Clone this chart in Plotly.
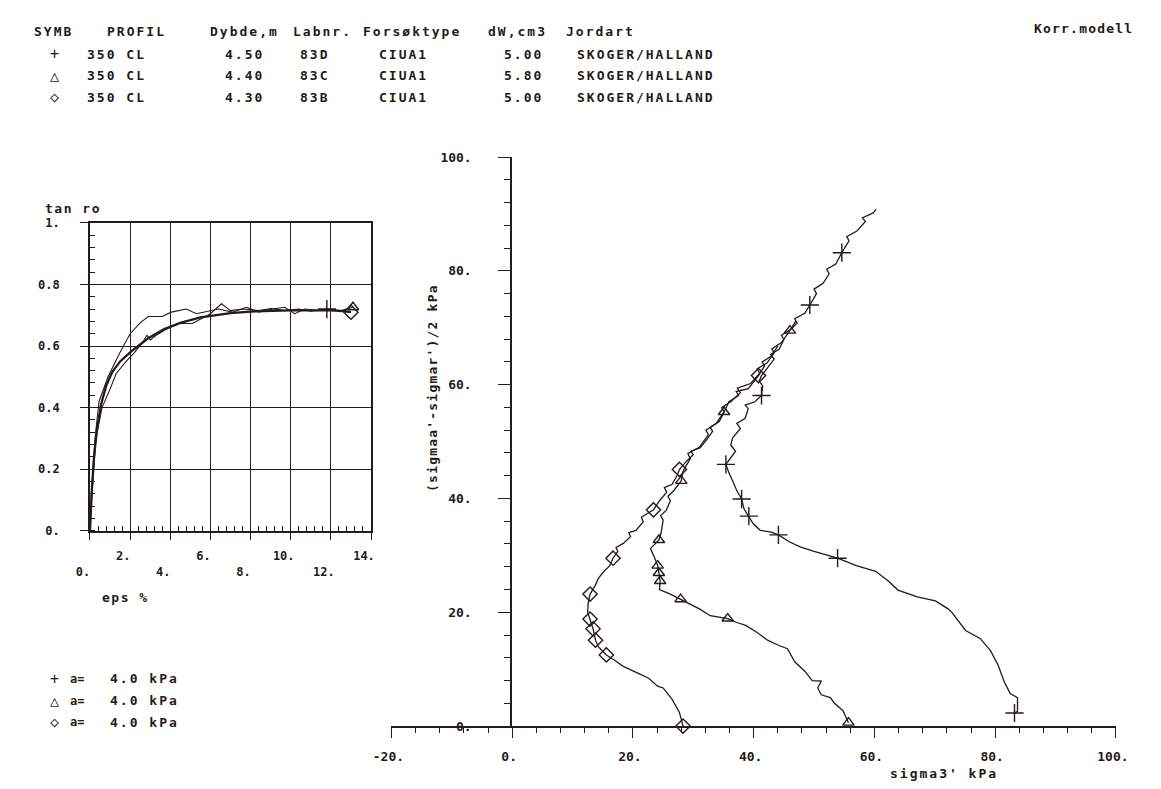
import plotly.graph_objects as go

W, H = 1161, 789
INK = "#241a17"
FONT = "DejaVu Sans Mono"

# ---------------- data ----------------
# header table
hdr_cols = ["SYMB", "PROFIL", "Dybde,m", "Labnr.", "Forsøktype", "dW,cm3", "Jordart"]
symbols = ["+", "△", "◇"]
profil = ["350 CL", "350 CL", "350 CL"]
dybde = ["4.50", "4.40", "4.30"]
labnr = ["83D", "83C", "83B"]
forsok = ["CIUA1", "CIUA1", "CIUA1"]
dw = ["5.00", "5.80", "5.00"]
jordart = ["SKOGER/HALLAND", "SKOGER/HALLAND", "SKOGER/HALLAND"]
a_vals = ["4.0", "4.0", "4.0"]

# left chart: tan ro vs eps %
eps_plus = [0, 0.1, 0.25, 0.45, 0.9, 1.5, 2.0, 2.5, 2.9, 3.6, 4.05, 4.8, 5.3, 6.0,
            6.4, 7.1, 7.8, 8.4, 9.1, 9.7, 10.2, 10.7, 11.3, 11.8]
tan_plus = [0, 0.15, 0.3, 0.42, 0.5, 0.58, 0.64, 0.675, 0.696, 0.696, 0.71, 0.72, 0.705,
            0.715, 0.72, 0.71, 0.726, 0.71, 0.72, 0.726, 0.705, 0.72, 0.715, 0.72]
eps_tri = [0, 0.1, 0.3, 0.6, 1.0, 1.3, 1.8, 2.2, 2.6, 2.84, 3.0, 3.3, 3.73, 4.37, 5.1,
           5.67, 6.0, 6.55, 7.0, 7.6, 8.4, 9.0, 9.7, 10.4, 11.0, 11.8, 12.5, 13.1]
tan_tri = [0, 0.12, 0.3, 0.4, 0.46, 0.51, 0.55, 0.578, 0.61, 0.635, 0.62, 0.635, 0.652,
           0.673, 0.673, 0.694, 0.705, 0.737, 0.715, 0.72, 0.715, 0.722, 0.715, 0.72,
           0.713, 0.72, 0.715, 0.726]
eps_dia = [0, 0.08, 0.2, 0.35, 0.55, 0.8, 1.1, 1.5, 2.1, 2.9, 3.7, 4.5, 5.5, 6.2, 7.0,
           8.0, 9.0, 10.0, 11.0, 12.0, 12.6, 13.0]
tan_dia = [0, 0.12, 0.24, 0.33, 0.41, 0.47, 0.515, 0.55, 0.585, 0.625, 0.655, 0.675,
           0.693, 0.70, 0.707, 0.712, 0.715, 0.716, 0.716, 0.716, 0.713, 0.71]

# right chart: stress path, sigma3' vs (sigmaa'-sigmar')/2
s3_plus = [83.2, 83.7, 83.7, 82.5, 81.5, 80.5, 79.2, 77.5, 75.1, 72.9, 72.2, 70.1, 67.1,
           63.9, 62.3, 60.2, 57.0, 53.9, 50.0, 47.7, 45.9, 44.1, 42.9, 41.1, 39.9, 39.2,
           38.4, 38.0, 37.2, 36.5, 35.9, 35.4, 37.0, 36.2, 36.5, 37.8, 37.2, 38.6, 39.1,
           38.6, 40.2, 41.3, 41.5, 40.9, 41.3, 42.1, 43.4, 42.8, 44.2, 45.0, 44.6, 46.1,
           47.2, 46.8, 48.5, 49.3, 50.4, 50.0, 51.5, 52.5, 52.1, 53.6, 54.6, 55.8, 55.4,
           57.1, 58.5, 58.0, 59.8, 60.3]
q_plus = [2.3, 2.6, 5.0, 5.7, 7.8, 10.7, 13.3, 15.4, 16.8, 19.9, 20.6, 22.0, 22.7, 23.9,
          25.5, 27.2, 28.2, 29.5, 30.7, 31.5, 32.4, 33.6, 34.1, 34.4, 35.6, 36.9, 38.2,
          39.9, 41.4, 43.1, 44.5, 46.0, 48.3, 49.4, 50.6, 52.3, 53.2, 54.1, 55.8, 56.4,
          57.0, 58.1, 59.8, 60.6, 61.6, 62.7, 64.5, 65.3, 66.2, 67.9, 68.7, 69.7, 70.8,
          71.6, 72.6, 74.0, 76.0, 76.8, 77.8, 79.5, 80.3, 81.2, 83.2, 85.3, 86.0, 87.0,
          88.7, 89.3, 90.2, 90.8]
s3_tri = [55.7, 54.8, 53.3, 52.7, 51.2, 50.6, 51.2, 49.7, 48.5, 46.8, 45.6, 44.1, 42.3,
          40.5, 38.7, 37.2, 35.7, 32.8, 31.0, 29.5, 27.9, 26.2, 24.4, 24.5, 24.3, 24.1,
          23.5, 22.9, 24.3, 24.7, 25.0, 24.6, 25.5, 26.2, 25.8, 26.8, 28.0, 28.3, 29.5,
          29.1, 31.0, 32.5, 32.1, 33.8, 35.1, 34.7, 36.2, 37.8, 37.3, 39.5, 41.0, 40.6,
          42.2, 43.4, 43.0, 44.6, 46.0, 47.0]
q_tri = [0.6, 2.7, 4.1, 5.0, 5.5, 6.7, 7.9, 8.0, 9.6, 11.3, 13.6, 14.2, 15.1, 16.5, 17.7,
         18.2, 18.9, 19.4, 20.6, 21.4, 22.3, 23.2, 24.0, 25.5, 26.9, 28.2, 29.8, 31.2,
         32.7, 34.1, 36.2, 37.0, 37.9, 39.6, 40.4, 41.4, 43.1, 44.8, 47.0, 47.9, 49.0,
         51.2, 52.0, 53.2, 55.2, 56.0, 57.0, 58.6, 59.4, 60.2, 62.0, 62.8, 63.8, 65.6,
         66.3, 67.4, 69.5, 71.2]
s3_dia = [28.3, 27.7, 26.5, 25.0, 24.1, 22.6, 20.8, 18.4, 16.9, 15.6, 14.3, 13.8, 13.4,
          12.9, 12.5, 12.6, 12.9, 13.7, 14.3, 15.2, 16.1, 16.7, 17.5, 17.2, 18.4, 19.6,
          19.3, 20.5, 21.7, 21.4, 23.4, 24.4, 25.6, 25.2, 26.5, 27.4, 27.7, 28.9, 30.0,
          29.6, 31.1, 32.2, 33.2, 32.8, 34.3, 35.1, 35.9, 37.5, 37.1, 39.1, 40.8, 41.8,
          41.4, 42.9, 44.0]
q_dia = [0.0, 2.4, 4.7, 6.7, 7.0, 8.4, 9.3, 10.5, 11.6, 12.5, 13.9, 15.1, 17.1, 18.8,
         20.0, 21.7, 23.2, 24.6, 26.0, 27.2, 28.1, 29.5, 30.7, 31.4, 32.1, 33.3, 34.0,
         34.4, 35.9, 36.7, 38.0, 39.6, 41.1, 41.9, 42.5, 44.2, 45.1, 46.6, 47.7, 48.3,
         48.9, 50.3, 51.8, 52.5, 53.5, 55.2, 57.0, 58.1, 58.8, 59.3, 61.6, 63.3, 64.0,
         65.0, 66.8]

# marker positions along the paths
mk_plus_x = [83.2, 53.9, 44.1, 39.2, 38.0, 35.4, 41.3, 49.3, 54.6]
mk_plus_y = [2.3, 29.5, 33.6, 36.9, 39.9, 46.0, 58.1, 74.0, 83.2]
mk_tri_x = [55.7, 35.7, 27.9, 24.5, 24.3, 24.1, 24.3, 28.0, 35.1, 46.0]
mk_tri_y = [0.6, 18.9, 22.3, 25.5, 26.9, 28.2, 32.7, 43.1, 55.2, 69.5]
mk_dia_x = [28.3, 15.6, 13.8, 13.4, 12.9, 12.9, 16.7, 23.4, 27.7, 40.8]
mk_dia_y = [0.0, 12.5, 15.1, 17.1, 18.8, 23.2, 29.5, 38.0, 45.1, 61.6]

# tick labels
left_x_vals = [0, 2, 4, 6, 8, 10, 12, 14]
left_x_text = ["<br>0.", "2.", "<br>4.", "6.", "<br>8.", "10.", "<br>12.", "14."]
left_y_vals = [0, 0.2, 0.4, 0.6, 0.8, 1.0]
left_y_text = ["0.", "0.2", "0.4", "0.6", "0.8", "1."]
right_x_vals = [-20, 0, 20, 40, 60, 80, 100]
right_x_text = ["-20.", "0.", "20.", "40.", "60.", "80.", "100."]
right_y_vals = [0, 20, 40, 60, 80, 100]
right_y_text = ["0.", "20.", "40.", "60.", "80.", "100."]


def fx(p):
    return p / W


def fy(p):
    return 1 - p / H


fig = go.Figure()

line_thin = dict(color=INK, width=1.1)
fig.add_trace(go.Scatter(x=eps_plus, y=tan_plus, mode="lines", line=line_thin,
                         xaxis="x", yaxis="y", cliponaxis=False))
fig.add_trace(go.Scatter(x=eps_tri, y=tan_tri, mode="lines", line=line_thin,
                         xaxis="x", yaxis="y", cliponaxis=False))
fig.add_trace(go.Scatter(x=eps_dia, y=tan_dia, mode="lines", line=dict(color=INK, width=2.3),
                         xaxis="x", yaxis="y", cliponaxis=False))
mk_line = dict(color=INK, width=1.4)
fig.add_trace(go.Scatter(x=eps_plus[-1:], y=tan_plus[-1:], mode="markers",
                         marker=dict(symbol="cross-thin-open", size=13, line=mk_line, color=INK),
                         xaxis="x", yaxis="y", cliponaxis=False))
fig.add_trace(go.Scatter(x=eps_tri[-1:], y=tan_tri[-1:], mode="markers",
                         marker=dict(symbol="triangle-up-open", size=10, line=mk_line, color=INK),
                         xaxis="x", yaxis="y", cliponaxis=False))
fig.add_trace(go.Scatter(x=eps_dia[-1:], y=tan_dia[-1:], mode="markers",
                         marker=dict(symbol="diamond-open", size=11, line=mk_line, color=INK),
                         xaxis="x", yaxis="y", cliponaxis=False))

for xs, ys in [(s3_plus, q_plus), (s3_tri, q_tri), (s3_dia, q_dia)]:
    fig.add_trace(go.Scatter(x=xs, y=ys, mode="lines", line=dict(color=INK, width=1.3),
                             xaxis="x2", yaxis="y2", cliponaxis=False))
fig.add_trace(go.Scatter(x=mk_plus_x, y=mk_plus_y, mode="markers",
                         marker=dict(symbol="cross-thin-open", size=13, line=mk_line, color=INK),
                         xaxis="x2", yaxis="y2", cliponaxis=False))
fig.add_trace(go.Scatter(x=mk_tri_x, y=mk_tri_y, mode="markers",
                         marker=dict(symbol="triangle-up-open", size=10, line=mk_line, color=INK),
                         xaxis="x2", yaxis="y2", cliponaxis=False))
fig.add_trace(go.Scatter(x=mk_dia_x, y=mk_dia_y, mode="markers",
                         marker=dict(symbol="diamond-open", size=11, line=mk_line, color=INK),
                         xaxis="x2", yaxis="y2", cliponaxis=False))

tickfont = dict(family=FONT, size=12, color=INK, weight="bold")
tickfont2 = dict(family=FONT, size=13, color=INK, weight="bold")

fig.update_layout(
    width=W, height=H, margin=dict(l=0, r=0, t=0, b=0),
    paper_bgcolor="white", plot_bgcolor="white", showlegend=False,
    font=dict(family=FONT, color=INK),
    xaxis=dict(domain=[fx(73), fx(362)], range=[0, 14], anchor="y",
               tickmode="array", tickvals=left_x_vals, ticktext=left_x_text,
               ticks="outside", ticklen=7, tickwidth=1.3, tickcolor=INK,
               showgrid=True, gridcolor=INK, gridwidth=1.2,
               showline=True, linecolor=INK, linewidth=1.6, mirror=True,
               zeroline=False, tickfont=tickfont, ticklabelshift=-7,
               ticklabelstandoff=6,
               minor=dict(tickmode="linear", tick0=0, dtick=0.4, ticks="inside",
                          ticklen=5, tickwidth=1.1, tickcolor=INK, showgrid=False)),
    yaxis=dict(domain=[fy(534), fy(220)], range=[0, 1], anchor="x",
               tickmode="array", tickvals=left_y_vals, ticktext=left_y_text,
               ticks="outside", ticklen=8, tickwidth=1.3, tickcolor=INK,
               showgrid=True, gridcolor=INK, gridwidth=1.2,
               showline=True, linecolor=INK, linewidth=1.6, mirror=True,
               zeroline=False, tickfont=tickfont, ticklabelstandoff=18,
               minor=dict(tickmode="linear", tick0=0, dtick=0.04, ticks="inside",
                          ticklen=5, tickwidth=1.1, tickcolor=INK, showgrid=False)),
    xaxis2=dict(domain=[fx(383), fx(1128)], range=[-20, 100], anchor="y2",
                tickmode="array", tickvals=right_x_vals, ticktext=right_x_text,
                ticks="outside", ticklen=10, tickwidth=1.4, tickcolor=INK,
                showgrid=False, showline=True, linecolor=INK, linewidth=1.5,
                zeroline=False, tickfont=tickfont2,
                ticklabelshift=-3, ticklabelstandoff=8,
                minor=dict(tickmode="linear", tick0=0, dtick=4, ticks="outside",
                           ticklen=5, tickwidth=1.1, tickcolor=INK, showgrid=False)),
    yaxis2=dict(domain=[fy(733), fy(153)], range=[0, 100], anchor="free",
                position=fx(506),
                tickmode="array", tickvals=right_y_vals, ticktext=right_y_text,
                ticks="outside", ticklen=12, tickwidth=1.4, tickcolor=INK,
                showgrid=False, showline=True, linecolor=INK, linewidth=1.5,
                zeroline=False, tickfont=tickfont2,
                ticklabelstandoff=24,
                minor=dict(tickmode="linear", tick0=0, dtick=4, ticks="outside",
                           ticklen=6, tickwidth=1.1, tickcolor=INK, showgrid=False)),
)


def ls(t, sp):
    return f'<span style="letter-spacing:{sp}px">{t}</span>'


ann = []


def add(text, x, y, anchor="left", size=13, sp=2.0, angle=0, bold=True):
    ann.append(dict(text=ls(text, sp) if sp else text, x=fx(x), y=fy(y), xref="paper",
                    yref="paper", xanchor=anchor, yanchor="middle", showarrow=False,
                    textangle=angle,
                    font=dict(family=FONT, size=size, color=INK,
                              weight="bold" if bold else "normal")))


# header
hdr_x = [13, 88, 194, 280, 352, 480, 560]
for t, x in zip(hdr_cols, hdr_x):
    add(t, x, 25)
add("Korr.modell", 1042, 22, sp=1.2)
row_y = [48, 70, 92]
for i in range(3):
    y = row_y[i]
    add(symbols[i], 30, y, size=15, sp=0, bold=False)
    add(profil[i], 68, y)
    add(dybde[i], 254, y, anchor="right")
    add(labnr[i], 287, y)
    add(forsok[i], 368, y)
    add(dw[i], 541, y, anchor="right")
    add(jordart[i], 572, y)

# left chart labels
add("tan ro", 25, 205, size=13, sp=1.5)
add("eps %", 83, 602, size=13, sp=1.5)
leg_y = [685, 707, 729]
for i in range(3):
    add(symbols[i], 30, leg_y[i], size=15, sp=0, bold=False)
    add("a=", 50, leg_y[i], size=12, sp=0)
    add(a_vals[i] + " kPa", 92, leg_y[i], size=13, sp=2)

# right chart axis titles
add("(sigmaa'-sigmar')/2 kPa", 425, 388, anchor="center", size=13, sp=1.2, angle=-90)
add("sigma3' kPa", 951, 781, anchor="center", size=13, sp=2)

fig.update_layout(annotations=ann)
fig.write_html("out.html", config={"displayModeBar": False},
               post_script="document.body.style.margin='0';document.body.style.overflow='hidden';")
